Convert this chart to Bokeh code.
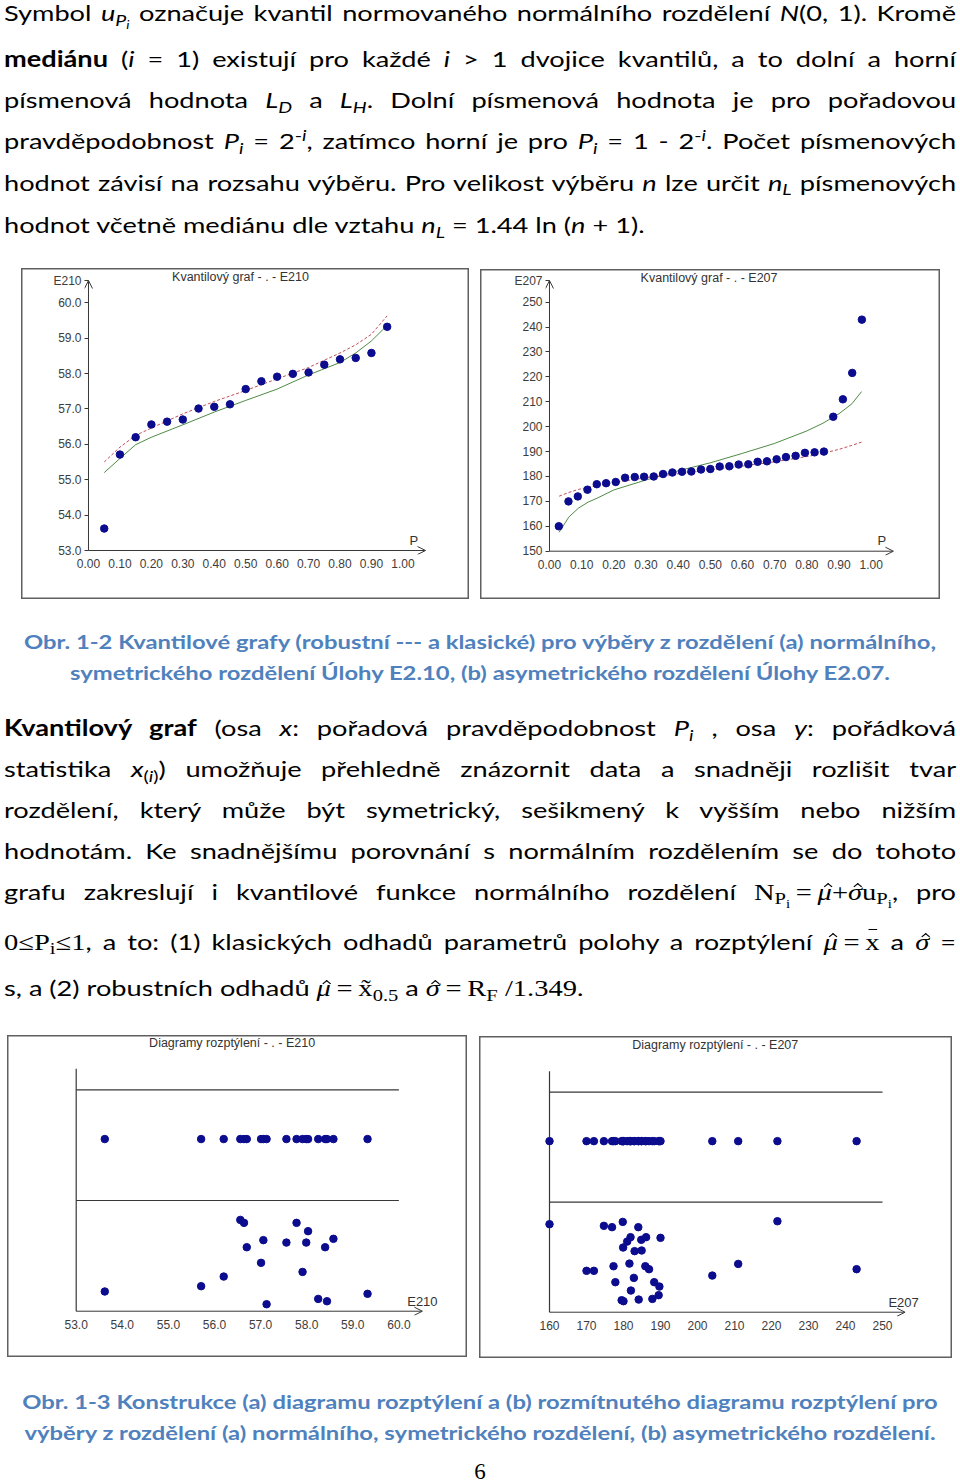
from bokeh.plotting import figure
from bokeh.models import Div, Spacer, Label, Arrow, OpenHead, FixedTicker, Range1d, NumeralTickFormatter
from bokeh.layouts import column, row
from bokeh.embed import file_html
from bokeh.resources import INLINE

# ---------------- data ----------------
# Task E2.10 (symmetric sample): plotting positions P_i and order statistics
E210_P = [0.05, 0.10, 0.15, 0.20, 0.25, 0.30, 0.35, 0.40, 0.45, 0.50,
          0.55, 0.60, 0.65, 0.70, 0.75, 0.80, 0.85, 0.90, 0.95]
E210_X = [53.62, 55.71, 56.20, 56.56, 56.64, 56.70, 57.01, 57.06, 57.13, 57.56,
          57.78, 57.91, 57.99, 58.03, 58.25, 58.40, 58.44, 58.58, 59.32]
# vertical jitter of the "rozmítnutý" dot diagram (0..1 inside the lower band)
E210_JITTER = [0.178, 0.226, 0.313, 0.825, 0.798, 0.578, 0.437, 0.642, 0.063, 0.620,
               0.798, 0.355, 0.620, 0.723, 0.111, 0.578, 0.090, 0.654, 0.157]
# normal quantile functions (classic = green solid, robust = red dashed)
E210_LINE_P = [0.05, 0.10, 0.15, 0.20, 0.30, 0.40, 0.50, 0.60, 0.70, 0.80, 0.85, 0.90, 0.95]
E210_CLASSIC = [55.20, 55.60, 55.99, 56.20, 56.55, 56.91, 57.24, 57.56, 57.96, 58.31, 58.58, 58.92, 59.36]
E210_ROBUST = [55.50, 55.92, 56.25, 56.46, 56.86, 57.21, 57.52, 57.85, 58.17, 58.58, 58.81, 59.11, 59.63]

# Task E2.07 (asymmetric sample)
E207_P = [0.029, 0.059, 0.088, 0.118, 0.147, 0.176, 0.206, 0.235, 0.265, 0.294, 0.324,
          0.353, 0.382, 0.412, 0.441, 0.471, 0.500, 0.529, 0.559, 0.588, 0.618, 0.647,
          0.676, 0.706, 0.735, 0.765, 0.794, 0.824, 0.853, 0.882, 0.912, 0.941, 0.971]
E207_X = [160.0, 170.0, 172.0, 174.7, 176.9, 177.3, 177.8, 179.5, 179.8, 179.9, 180.0,
          181.0, 181.6, 181.9, 182.0, 182.8, 183.0, 184.0, 184.1, 184.8, 184.9, 185.9,
          186.1, 186.9, 187.8, 188.3, 189.5, 189.7, 190.0, 204.0, 211.0, 221.6, 243.0]
E207_JITTER = [0.800, 0.376, 0.376, 0.785, 0.773, 0.418, 0.273, 0.109, 0.821, 0.588, 0.100,
               0.642, 0.442, 0.682, 0.197, 0.312, 0.555, 0.773, 0.115, 0.658, 0.561, 0.418,
               0.682, 0.391, 0.121, 0.273, 0.155, 0.233, 0.676, 0.333, 0.439, 0.827, 0.391]
E207_LINE_P = [0.03, 0.06, 0.09, 0.12, 0.15, 0.20, 0.30, 0.40, 0.50, 0.60, 0.70, 0.80, 0.85, 0.90, 0.94, 0.97]
E207_CLASSIC = [157.6, 163.7, 167.3, 169.7, 171.4, 174.6, 178.6, 182.3, 185.5, 189.3, 193.3, 198.3, 201.4, 205.2, 209.2, 214.1]
E207_ROBUST = [172.1, 173.6, 174.8, 175.7, 176.5, 177.6, 179.5, 181.1, 182.6, 184.2, 185.9, 188.0, 189.3, 190.9, 192.5, 193.8]

P_TICKS = [0.0, 0.1, 0.2, 0.3, 0.4, 0.5, 0.6, 0.7, 0.8, 0.9, 1.0]
E210_TICKS = [53.0, 54.0, 55.0, 56.0, 57.0, 58.0, 59.0, 60.0]
E207_Q_TICKS = [150, 160, 170, 180, 190, 200, 210, 220, 230, 240, 250]
E207_D_TICKS = [160, 170, 180, 190, 200, 210, 220, 230, 240, 250]
BANDS = [1.0, 2.0]          # separators of the two dot-diagram bands
TOP_ROW = 1.555             # level of the plain dot diagram
AXIS_TOP = 2.19             # top of the vertical line of the dot diagrams

# ---------------- styles ----------------
DOT = "#0c0c8e"
GREEN = "#4f8a45"
RED = "#c0505a"
AX = "#383838"
FONT = "Liberation Sans"


def base_fig(fw, fh, bl, br, bt, bb, xr, yr):
    p = figure(frame_width=fw, frame_height=fh, min_border_left=bl, min_border_right=br,
               min_border_top=bt, min_border_bottom=bb, x_range=Range1d(*xr), y_range=Range1d(*yr),
               output_backend="svg", toolbar_location=None, tools="")
    p.outline_line_color = None
    p.grid.visible = False
    p.border_fill_color = None
    p.background_fill_color = None
    p.axis.axis_line_color = None
    p.axis.minor_tick_line_color = None
    p.axis.major_label_text_font = FONT
    p.axis.major_label_text_font_size = "12px"
    p.axis.major_label_text_color = "#3c3c3c"
    p.xaxis.major_tick_line_color = None
    p.xaxis.major_tick_out = 0
    p.xaxis.major_tick_in = 0
    p.xaxis.major_label_standoff = 4
    p.styles = {"box-shadow": "inset 0 0 0 1.5px #606060", "background-color": "white"}
    return p


def arrow(p, x0, y0, x1, y1):
    p.add_layout(Arrow(end=OpenHead(size=8, line_color=AX, line_width=1),
                       x_start=x0, y_start=y0, x_end=x1, y_end=y1, line_color=AX, line_width=1))


def label(p, x, y, text, size="12.5px", align="center"):
    p.add_layout(Label(x=x, y=y, text=text, text_font=FONT, text_font_size=size,
                       text_color="#333333", text_align=align, text_baseline="middle"))


def quantile_fig(fw, fh, bl, br, bt, bb, xr, yr, yticks, yfmt, P, X, LP, classic, robust,
                 name, title, title_xy, tip, p_xy):
    p = base_fig(fw, fh, bl, br, bt, bb, xr, yr)
    x0, y0 = P_TICKS[0], yticks[0]
    p.xaxis.ticker = FixedTicker(ticks=P_TICKS)
    p.xaxis.formatter = NumeralTickFormatter(format="0.00")
    # the variable name sits at the tip of the y axis arrow
    p.yaxis.ticker = FixedTicker(ticks=yticks + [tip[1]])
    p.yaxis.formatter = NumeralTickFormatter(format=yfmt)
    p.yaxis.major_label_overrides = {tip[1]: name}
    p.yaxis.major_tick_line_color = AX
    p.yaxis.major_tick_out = 0
    p.yaxis.major_tick_in = 4
    p.yaxis.major_label_standoff = 3
    p.line(LP, classic, line_color=GREEN, line_width=1)
    p.line(LP, robust, line_color=RED, line_width=1, line_dash="3 2")
    p.scatter(P, X, size=7.5, fill_color=DOT, line_color=DOT)
    arrow(p, x0, y0, tip[0], y0)
    arrow(p, x0, y0, x0, tip[1])
    label(p, title_xy[0], title_xy[1], title)
    label(p, p_xy[0], p_xy[1], "P", size="13px")
    return p


def dot_fig(fw, fh, bl, br, bt, bb, xr, yr, xticks, xfmt, X, J, name, title, title_xy, tip_x, name_xy):
    p = base_fig(fw, fh, bl, br, bt, bb, xr, yr)
    p.yaxis.visible = False
    p.xaxis.ticker = FixedTicker(ticks=xticks)
    p.xaxis.formatter = NumeralTickFormatter(format=xfmt)
    x0, x1 = xticks[0], xticks[-1]
    p.segment(x0=[x0] * len(BANDS), x1=[x1] * len(BANDS), y0=BANDS, y1=BANDS,
              line_color=AX, line_width=1.2)
    p.segment(x0=[x0], x1=[x0], y0=[0], y1=[AXIS_TOP], line_color=AX, line_width=1.2)
    p.scatter(X, [TOP_ROW] * len(X), size=7.5, fill_color=DOT, line_color=DOT)
    p.scatter(X, J, size=7.5, fill_color=DOT, line_color=DOT)
    arrow(p, x0, 0, tip_x, 0)
    label(p, title_xy[0], title_xy[1], title)
    label(p, name_xy[0], name_xy[1], name, size="13px")
    return p


figA = quantile_fig(383, 284, 63, 2, 2, 45, (-0.0127, 1.2055), (52.887, 60.910), E210_TICKS, "0.0",
                    E210_P, E210_X, E210_LINE_P, E210_CLASSIC, E210_ROBUST,
                    "E210", "Kvantilový graf - . -  E210", (0.489, 60.72), (1.072, 60.627), (1.035, 53.28))
figB = quantile_fig(393, 284, 65, 2, 2, 44, (-0.0124, 1.2092), (148.27, 262.33), E207_Q_TICKS, "0",
                    E207_P, E207_X, E207_LINE_P, E207_CLASSIC, E207_ROBUST,
                    "E207", "Kvantilový graf - . - E207", (0.496, 259.6), (1.069, 258.7), (1.033, 154.3))
figB.margin = (1, 0, 0, 0)
figC = dot_fig(456, 279, 2, 2, 1, 42, (51.553, 61.445), (-0.0388, 2.4815), E210_TICKS, "0.0",
               E210_X, E210_JITTER, "E210", "Diagramy rozptýlení - . -  E210", (56.42, 2.42), 60.51, (60.51, 0.09))
figD = dot_fig(469, 279, 2, 2, 1, 42, (141.62, 268.38), (-0.039, 2.497), E207_D_TICKS, "0",
               E207_X, E207_JITTER, "E207", "Diagramy rozptýlení - . - E207", (204.8, 2.425), 256.1, (255.7, 0.09))
figD.margin = (1, 0, 0, 0)

# ---------------- text ----------------
FS = 22
SX = 1.235      # the reference page is set wider than the font's natural width
CFS = 19.5
CSX = 1.22
CAP = "#4F81BD"


def sub(s, k=0.72):
    return f'<span style="position:relative;top:0.3em;font-size:{k}em;line-height:0">{s}</span>'


def sup(s):
    return f'<span style="position:relative;top:-0.5em;font-size:0.72em;line-height:0">{s}</span>'


def hat(ch):
    # italic letter with a circumflex drawn as a small CSS chevron (no extra text node)
    return (f'<span style="position:relative;display:inline-block;line-height:1em"><i>{ch}</i>'
            f'<span style="position:absolute;left:0.25em;top:0.16em;width:0.2em;height:0.2em;'
            f'border-left:1px solid #000;border-top:1px solid #000;transform:rotate(45deg)"></span></span>')


def bar(ch):
    return (f'<span style="position:relative;display:inline-block;line-height:1em">{ch}'
            f'<span style="position:absolute;left:0.1em;right:0.1em;top:-0.05em;'
            f'border-top:1px solid #000"></span></span>')


def m(s):
    return f'<span style="font-family:Liberation Serif;font-size:1.05em">{s}</span>'


MU = hat("μ")
SIG = hat("σ")
XBAR = bar("x")
XTIL = "x\u0303"


def line(html, baseline, fs=FS, sx=SX, left=4, width=952, align="justify", weight="normal",
         color="#000000", H=40, ws=0):
    top = baseline - (H / 2 + 0.387 * fs)
    return (f'<div style="position:absolute;left:{left}px;width:{width / sx:.1f}px;top:{top:.1f}px;'
            f'height:{H}px;line-height:{H}px;font-family:Lato;font-size:{fs}px;font-weight:{weight};'
            f'color:{color};text-align:{align};text-align-last:{align};word-spacing:{ws}px;'
            f'transform:scaleX({sx});transform-origin:0 0;">{html}</div>')


def cap(html, baseline):
    return line(html, baseline, fs=CFS, sx=CSX, left=0, width=960, align="center",
                weight="bold", color=CAP)


def box(lines, h):
    return f'<div style="position:relative;width:960px;height:{h}px">' + "".join(lines) + "</div>"


J = dict(ws=-1.5)
Pi = "<i>P</i>" + sub("<i>i</i>")
para1 = [
    line(f'Symbol <i>u</i>{sub("<i>P</i>" + sub("<i>i</i>"))} označuje kvantil normovaného normálního rozdělení <i>N</i>(0, 1). Kromě', 21.3, **J),
    line('<b>mediánu</b> (<i>i</i> = 1) existují pro každé <i>i</i> &gt; 1 dvojice kvantilů, a to dolní a horní', 67.0, **J),
    line(f'písmenová hodnota <i>L</i>{sub("<i>D</i>")} a <i>L</i>{sub("<i>H</i>")}. Dolní písmenová hodnota je pro pořadovou', 108.7, **J),
    line(f'pravděpodobnost {Pi} = 2{sup("-<i>i</i>")}, zatímco horní je pro {Pi} = 1 - 2{sup("-<i>i</i>")}. Počet písmenových', 149.4, **J),
    line(f'hodnot závisí na rozsahu výběru. Pro velikost výběru <i>n</i> lze určit <i>n</i>{sub("<i>L</i>")} písmenových', 191.1, **J),
    line(f'hodnot včetně mediánu dle vztahu <i>n</i>{sub("<i>L</i>")} = 1.44 ln (<i>n</i> + 1).', 233.8, align="left"),
]

PiS = "P" + sub("i")
block2 = [
    cap('Obr. 1-2 Kvantilové grafy (robustní --- a klasické) pro výběry z rozdělení (a) normálního,', 50.5),
    cap('symetrického rozdělení Úlohy E2.10, (b) asymetrického rozdělení Úlohy E2.07.', 81.0),
    line(f'<b>Kvantilový graf</b> (osa <i>x</i>: pořadová pravděpodobnost {Pi} , osa <i>y</i>: pořádková', 137.7, **J),
    line(f'statistika <i>x</i>{sub("(<i>i</i>)")}) umožňuje přehledně znázornit data a&nbsp;snadněji rozlišit tvar', 178.3, **J),
    line('rozdělení, který může být symetrický, sešikmený k&nbsp;vyšším nebo nižším', 219.3, **J),
    line('hodnotám. Ke snadnějšímu porovnání s&nbsp;normálním rozdělením se do tohoto', 260.3, **J),
    line('grafu zakreslují i kvantilové funkce normálního rozdělení '
         + m(f'N{sub(PiS)}&thinsp;=&thinsp;{MU}+{SIG}u{sub(PiS)}') + ', pro', 301.0, **J),
    line(m(f'0≤P{sub("i")}≤1') + ', a to: (1) klasických odhadů parametrů polohy a rozptýlení '
         + m(f'{MU}&thinsp;=&thinsp;{XBAR}') + ' a ' + m(SIG) + ' =', 351.0, **J),
    line('s, a (2) robustních odhadů ' + m(f'{MU}&thinsp;=&thinsp;{XTIL}{sub("0.5")}') + ' a '
         + m(f'{SIG}&thinsp;=&thinsp;R{sub("F")} /1.349') + '.', 397.7, align="left"),
]

block3 = [
    cap('Obr. 1-3 Konstrukce (a) diagramu rozptýlení a (b) rozmítnutého diagramu rozptýlení pro', 50.5),
    cap('výběry z rozdělení (a) normálního, symetrického rozdělení, (b) asymetrického rozdělení.', 81.0),
    f'<div style="position:absolute;left:0;width:960px;top:{121 - 20 - 0.3375 * 23:.1f}px;height:40px;'
    f'line-height:40px;text-align:center;font-family:Liberation Serif;font-size:23px;color:#000">6</div>',
]

div1 = Div(text=box(para1, 268), width=960, height=268, margin=0)
div2 = Div(text=box(block2, 436), width=960, height=436, margin=0)
div3 = Div(text=box(block3, 125), width=960, height=125, margin=0)

row1 = row(Spacer(width=21, height=331), figA, Spacer(width=11, height=331), figB, spacing=0)
row2 = row(Spacer(width=7, height=324), figC, Spacer(width=12, height=324), figD, spacing=0)
page = column(div1, row1, div2, row2, div3, spacing=0)

open("out.html", "w").write(file_html(page, INLINE, title="Kvantilové grafy"))
